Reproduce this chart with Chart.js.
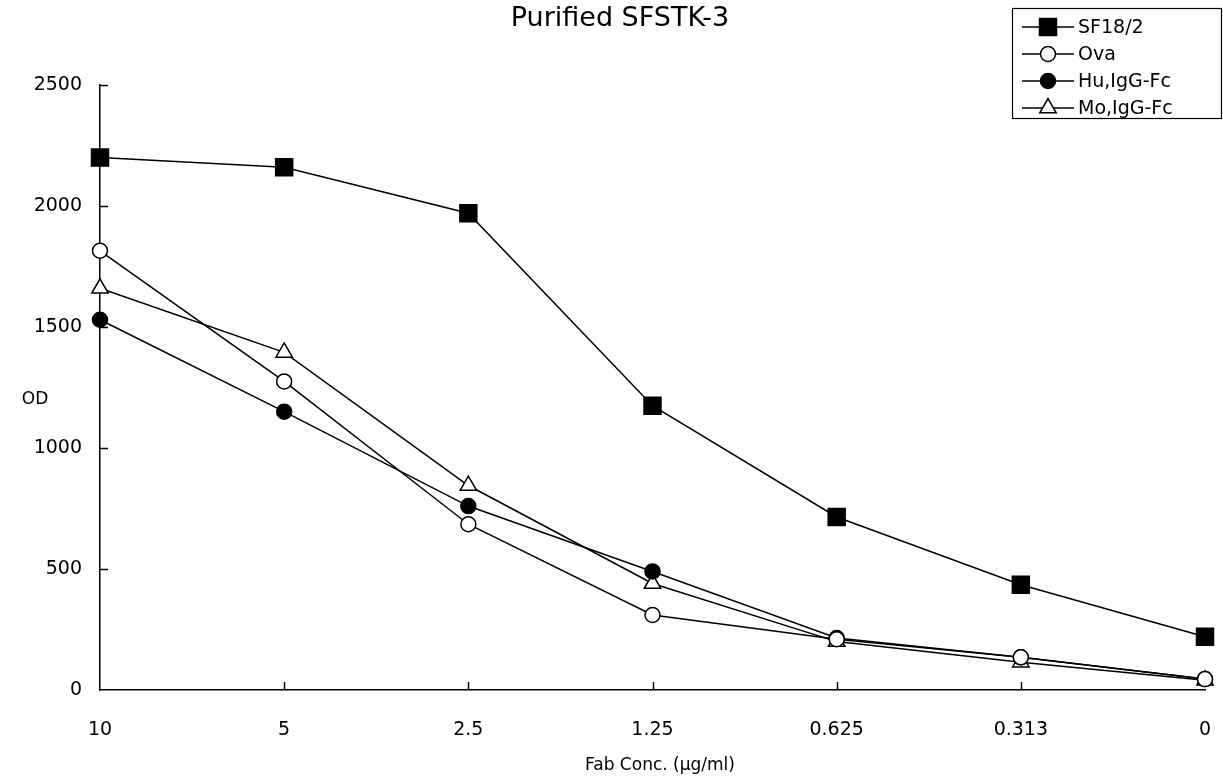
<!DOCTYPE html>
<html>
<head>
<meta charset="utf-8">
<script src="https://cdn.jsdelivr.net/npm/chart.js@4/dist/chart.umd.min.js"></script>
<style>
  html, body { margin: 0; padding: 0; background: #fff; }
  #wrap { width: 1223px; height: 780px; position: relative; }
</style>
</head>
<body>
<div id="wrap"><canvas id="c" width="1223" height="780"></canvas></div>
<script>
// ---- data ----
const categories = ['10', '5', '2.5', '1.25', '0.625', '0.313', '0'];
const sf18 = [2200, 2160, 1970, 1175, 715, 435, 220];
const ova = [1815, 1275, 685, 310, 210, 135, 45];
const huIgG = [1530, 1150, 760, 490, 215, 135, 45];
const moIgG = [1660, 1395, 845, 440, 200, 115, 40];
const seriesNames = ['SF18/2', 'Ova', 'Hu,IgG-Fc', 'Mo,IgG-Fc'];
const yTicks = [0, 500, 1000, 1500, 2000, 2500];
const titleText = 'Purified SFSTK-3';
const xTitle = 'Fab Conc. (\u03bcg/ml)';
const yTitle = 'OD';

const FONT = "'DejaVu Sans', sans-serif";

function drawMarker(ctx, style, r, x, y, fill) {
  ctx.save();
  ctx.fillStyle = fill;
  ctx.strokeStyle = '#000';
  ctx.lineWidth = 1.5;
  ctx.beginPath();
  if (style === 'rect') {
    const s = Math.SQRT1_2 * r;
    ctx.rect(x - s, y - s, 2 * s, 2 * s);
  } else if (style === 'triangle') {
    const a = 2 * Math.PI / 3;
    for (let i = 0; i < 3; i++) {
      const ang = -Math.PI / 2 + i * a;
      const px = x + Math.cos(ang) * r, py = y + Math.sin(ang) * r;
      if (i === 0) ctx.moveTo(px, py); else ctx.lineTo(px, py);
    }
    ctx.closePath();
  } else {
    ctx.arc(x, y, r, 0, Math.PI * 2);
  }
  ctx.fill();
  ctx.stroke();
  ctx.restore();
}

const deco = {
  id: 'deco',
  afterDraw(chart) {
    const ctx = chart.ctx;
    const xs = chart.scales.x, ys = chart.scales.y;
    const area = chart.chartArea;
    ctx.save();
    ctx.strokeStyle = '#000';
    ctx.lineWidth = 1.5;
    // inward ticks on y axis
    ys.ticks.forEach(t => {
      if (t.value === 0) return;
      const py = Math.round(ys.getPixelForValue(t.value)) + 0.5;
      ctx.beginPath();
      ctx.moveTo(area.left, py);
      ctx.lineTo(area.left + 8, py);
      ctx.stroke();
    });
    // inward ticks on x axis
    xs.ticks.forEach((t, i) => {
      if (i === 0 || i === xs.ticks.length - 1) return;
      const px = Math.round(xs.getPixelForTick(i)) + 0.5;
      ctx.beginPath();
      ctx.moveTo(px, area.bottom);
      ctx.lineTo(px, area.bottom - 8);
      ctx.stroke();
    });
    // titles
    ctx.fillStyle = '#000';
    ctx.textAlign = 'center';
    ctx.textBaseline = 'middle';
    ctx.font = '27px ' + FONT;
    ctx.fillText(titleText, 620, 19);
    ctx.font = '17px ' + FONT;
    ctx.fillText(xTitle, 660, 766);
    ctx.font = '17px ' + FONT;
    ctx.fillText(yTitle, 35, 400);

    // legend box
    const bx = 1012, by = 8, bw = 209, bh = 110;
    ctx.lineWidth = 1.2;
    ctx.strokeRect(bx + 0.5, by + 0.5, bw, bh);
    ctx.font = '19px ' + FONT;
    ctx.textAlign = 'left';
    chart.data.datasets.forEach((ds, i) => {
      const ly = by + 19 + i * 27;
      ctx.strokeStyle = '#000';
      ctx.lineWidth = 1.5;
      ctx.beginPath();
      ctx.moveTo(bx + 10, ly);
      ctx.lineTo(bx + 62, ly);
      ctx.stroke();
      drawMarker(ctx, ds.pointStyle, ds.pointRadius, bx + 36, ly, ds.pointBackgroundColor);
      ctx.fillStyle = '#000';
      ctx.fillText(ds.label, bx + 66, ly + 1);
    });
    ctx.restore();
  }
};

const mk = (label, data, style, r, fill) => ({
  label, data,
  borderColor: '#000',
  borderWidth: 1.5,
  pointStyle: style,
  pointRadius: r,
  pointHoverRadius: r,
  pointBackgroundColor: fill,
  pointBorderColor: '#000',
  pointBorderWidth: 1.5,
  tension: 0,
  fill: false,
  clip: false
});

new Chart(document.getElementById('c'), {
  type: 'line',
  data: {
    labels: categories,
    datasets: [
      mk(seriesNames[0], sf18, 'rect', 12, '#000'),
      mk(seriesNames[1], ova, 'circle', 7.5, '#fff'),
      mk(seriesNames[2], huIgG, 'circle', 7.5, '#000'),
      mk(seriesNames[3], moIgG, 'triangle', 9.5, '#fff')
    ]
  },
  options: {
    responsive: false,
    animation: false,
    layout: { autoPadding: false, padding: { left: 0, right: 18, top: 85, bottom: 0 } },
    plugins: {
      legend: { display: false },
      title: { display: false },
      tooltip: { enabled: false }
    },
    scales: {
      x: {
        type: 'category',
        offset: false,
        grid: { display: false, drawTicks: true, tickLength: 29 },
        border: { display: true, color: '#000', width: 1.5 },
        ticks: { color: '#000', padding: 0, maxRotation: 0, autoSkip: false,
                 font: { family: FONT, size: 19 } },
        afterFit: s => { s.height = 90; }
      },
      y: {
        min: 0, max: 2500,
        afterBuildTicks: s => { s.ticks = yTicks.map(v => ({ value: v })); },
        grid: { display: false, drawTicks: false },
        border: { display: true, color: '#000', width: 1.5 },
        ticks: { color: '#000', padding: 18, font: { family: FONT, size: 19 },
                 callback: v => String(v) },
        afterFit: s => { s.width = 100; }
      }
    }
  },
  plugins: [deco]
});
</script>
</body>
</html>
